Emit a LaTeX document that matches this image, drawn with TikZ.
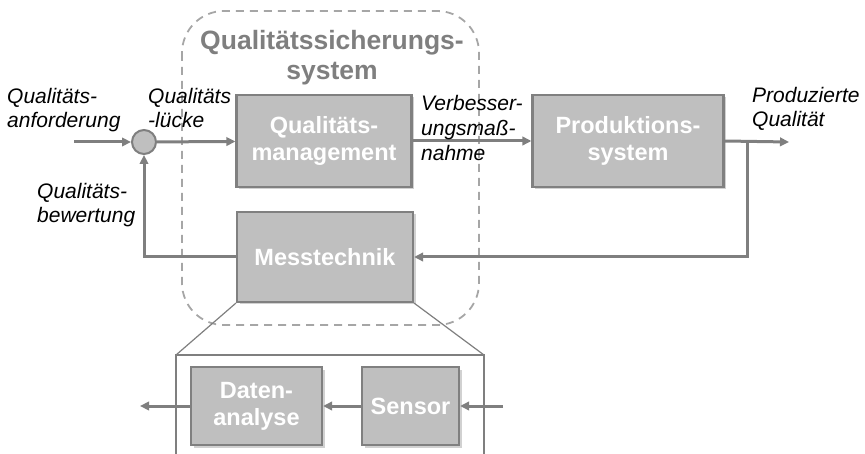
\documentclass[tikz,border=0pt]{standalone}
\usepackage{fontspec}
\setmainfont{Liberation Sans}
\usetikzlibrary{arrows.meta,shadows}
\definecolor{linegray}{HTML}{7F7F7F}
\definecolor{boxfill}{HTML}{BFBFBF}
\definecolor{boxline}{HTML}{808080}
\definecolor{dashgray}{HTML}{A6A6A6}
\definecolor{titlegray}{HTML}{7F7F7F}
\tikzset{
  block/.style={draw=boxline, line width=2.2pt, fill=boxfill, text=white,
    font=\fontsize{23.5}{27}\selectfont\bfseries, align=center, inner sep=0pt,
    drop shadow={shadow xshift=2.5pt, shadow yshift=-2.5pt, fill=black, opacity=0.18}},
  flow/.style={draw=linegray, line width=3pt, -{Triangle[length=9pt,width=8.5pt]}},
  lbl/.style={font=\fontsize{21}{24.5}\selectfont\itshape, inner sep=0pt, align=left},
  zoomline/.style={draw=linegray, line width=1.2pt},
}
\begin{document}
\begin{tikzpicture}[x=1pt,y=-1pt]
\useasboundingbox (0,0) rectangle (865,454);

% quality assurance system boundary
\draw[dashgray, line width=1.8pt, dash pattern=on 8pt off 6pt, rounded corners=42pt]
  (182,11) rectangle (479,325);
\node[text=titlegray, font=\fontsize{26.5}{30}\selectfont\bfseries, align=center, inner sep=0pt, anchor=base]
  (qss) at (332,80) {Qualitätssicherungs-\\system};

% main blocks
\node[block, minimum width=175pt, minimum height=92pt] (qm) at (324,141) {Qualitäts-\\management};
\node[block, minimum width=191pt, minimum height=92pt] (ps) at (628,141) {Produktions-\\system};
\node[block, minimum width=176pt, minimum height=90pt] (mt) at (325,257) {Messtechnik};

% summing point
\node[circle, draw=linegray, line width=2pt, fill=boxfill, minimum size=24pt, inner sep=0pt] (sum) at (144,142) {};

% connector anchors
\coordinate (in) at (74,142);
\coordinate (out) at (789,142);
\coordinate (tap) at (747,142);
\coordinate (tapdown) at (747,257);
\coordinate (fbcorner) at (144,257);

\draw[flow] (in) -- (sum);
\draw[flow] (sum) -- (qm);
\draw[flow] (qm) -- (ps);
\draw[flow] (ps.east) -- (out);
\draw[flow] (tap) -- (tapdown) -- (mt.east);
\draw[flow] (mt.west) -- (fbcorner) -- (sum.south);

% signal labels (anchored at the baseline of their last line)
\node[lbl, anchor=base west] (l1) at (7,128) {Qualitäts-\\anforderung};
\node[lbl, anchor=base west] (l2) at (148,128) {Qualitäts\\-lücke};
\node[lbl, anchor=base west, font=\fontsize{21}{25}\selectfont\itshape] (l3) at (421,161) {Verbesser-\\ungsmaß-\\nahme};
\node[lbl, anchor=base west] (l4) at (752,127) {Produzierte\\Qualität};
\node[lbl, anchor=base west] (l5) at (37,223) {Qualitäts-\\bewertung};

% magnified view of the measurement block
\coordinate (zl) at (176,355);
\coordinate (zr) at (484,355);
\coordinate (zlb) at (176,455);
\coordinate (zrb) at (484,455);
\draw[zoomline] (mt.south west) -- (zl);
\draw[zoomline] (mt.south east) -- (zr);
\draw[zoomline] (zlb) -- (zl) -- (zr) -- (zrb);

\node[block, minimum width=131pt, minimum height=78pt] (da) at (256.5,406) {Daten-\\analyse};
\node[block, minimum width=97pt, minimum height=78pt] (se) at (410.5,406) {Sensor};

\coordinate (sin) at (503,406);
\coordinate (sout) at (140,406);
\draw[flow] (sin) -- (se);
\draw[flow] (se) -- (da);
\draw[flow] (da) -- (sout);
\end{tikzpicture}
\end{document}
